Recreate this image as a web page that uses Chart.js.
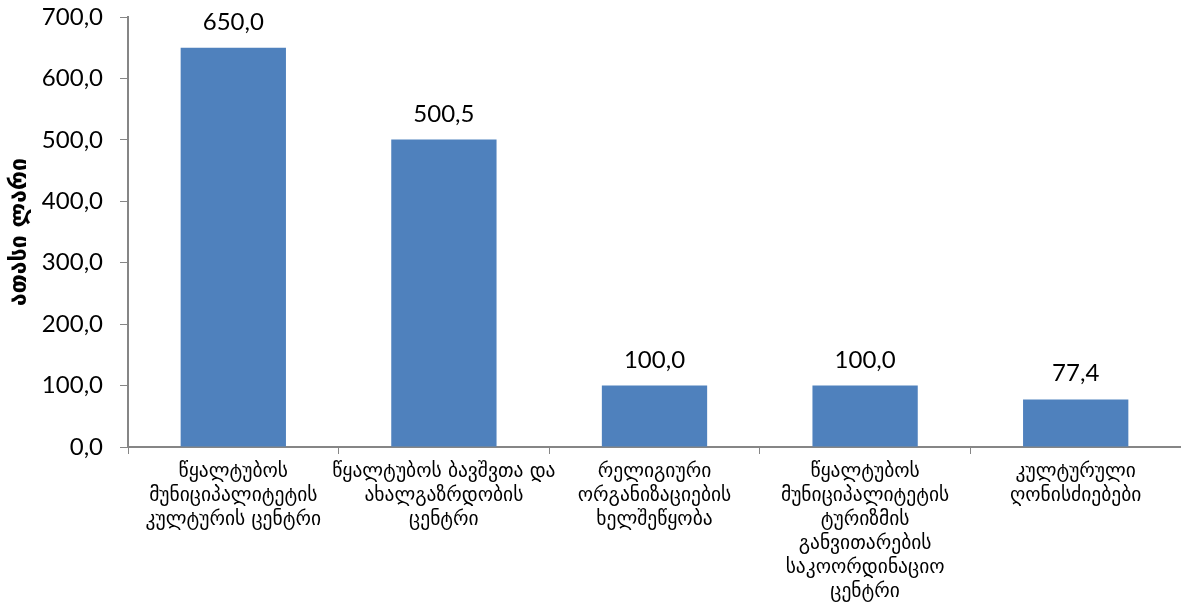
<!DOCTYPE html>
<html>
<head>
<meta charset="utf-8">
<script src="https://cdn.jsdelivr.net/npm/chart.js@4.4.1/dist/chart.umd.min.js"></script>
<style>
  html, body { margin: 0; padding: 0; background: #fff; }
  #wrap { width: 1181px; height: 607px; }
</style>
</head>
<body>
<div id="wrap"><canvas id="chart"></canvas></div>
<script>
const categories = [
    ['წყალტუბოს', 'მუნიციპალიტეტის', 'კულტურის ცენტრი'],
    ['წყალტუბოს ბავშვთა და', 'ახალგაზრდობის', 'ცენტრი'],
    ['რელიგიური', 'ორგანიზაციების', 'ხელშეწყობა'],
    ['წყალტუბოს', 'მუნიციპალიტეტის', 'ტურიზმის', 'განვითარების', 'საკოორდინაციო', 'ცენტრი'],
    ['კულტურული', 'ღონისძიებები']
];
const values = [650.0, 500.5, 100.0, 100.0, 77.4];
const axisTitle = 'ათასი ლარი';
const yMin = 0, yMax = 700, yStep = 100;

const fmt = v => Number(v).toFixed(1).replace('.', ',');
const numFont = "Lato, 'DejaVu Sans', sans-serif";
const geoFont = "'DejaVu Sans', sans-serif";
const axisGray = '#868686';

// value labels above the bars
const barLabels = {
    id: 'barLabels',
    afterDatasetsDraw(chart) {
        const ctx = chart.ctx;
        const meta = chart.getDatasetMeta(0);
        ctx.save();
        ctx.font = '24px ' + numFont;
        ctx.fillStyle = '#000';
        ctx.textAlign = 'center';
        ctx.textBaseline = 'alphabetic';
        meta.data.forEach((bar, i) => {
            ctx.fillText(fmt(values[i]), bar.x, bar.y - 18);
        });
        ctx.restore();
    }
};

new Chart(document.getElementById('chart'), {
    type: 'bar',
    data: {
        labels: categories,
        datasets: [{
            data: values,
            backgroundColor: '#4F81BD',
            borderWidth: 0,
            barPercentage: 0.5,
            categoryPercentage: 1.0
        }]
    },
    options: {
        responsive: true,
        maintainAspectRatio: false,
        animation: false,
        layout: { padding: { top: 17, right: 0, left: 0, bottom: 0 } },
        plugins: {
            legend: { display: false },
            tooltip: { enabled: false }
        },
        scales: {
            x: {
                grid: {
                    display: true,
                    drawOnChartArea: false,
                    drawTicks: true,
                    tickLength: 7,
                    color: axisGray,
                    offset: true
                },
                border: { color: axisGray, width: 2 },
                ticks: {
                    color: '#000',
                    font: { family: geoFont, size: 19.5, lineHeight: 1.23 },
                    maxRotation: 0,
                    autoSkip: false,
                    padding: 6
                },
                afterFit(axis) {
                    axis.height = 160;
                    axis.paddingLeft = 0;
                    axis.paddingRight = 0;
                }
            },
            y: {
                min: yMin,
                max: yMax,
                grid: {
                    display: true,
                    drawOnChartArea: false,
                    drawTicks: true,
                    tickLength: 8,
                    color: axisGray
                },
                border: { color: axisGray, width: 2 },
                ticks: {
                    stepSize: yStep,
                    color: '#000',
                    font: { family: numFont, size: 24 },
                    padding: 17,
                    callback: v => fmt(v)
                },
                title: {
                    display: true,
                    text: axisTitle,
                    color: '#000',
                    font: { family: geoFont, size: 23, weight: 'bold' },
                    padding: { top: 6, bottom: 0 }
                },
                afterFit(axis) {
                    axis.width = 128;
                    axis.paddingTop = 0;
                    axis.paddingBottom = 0;
                }
            }
        }
    },
    plugins: [barLabels]
});
</script>
</body>
</html>
